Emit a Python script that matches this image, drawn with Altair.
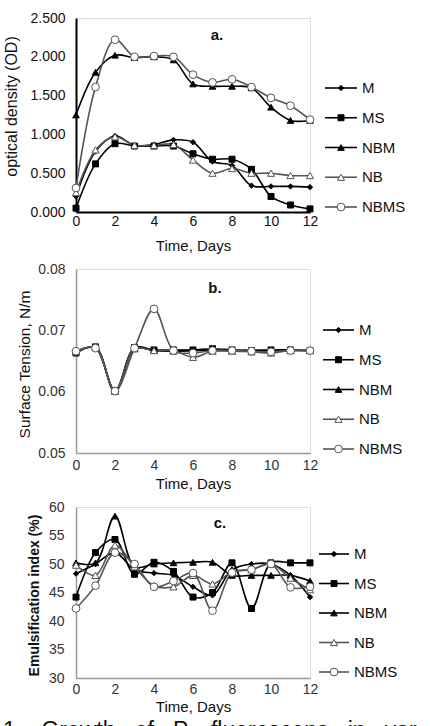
import altair as alt
import pandas as pd

# ---- data -----------------------------------------------------------------
days = list(range(13))
series = ["M", "MS", "NBM", "NB", "NBMS"]

# a. optical density (OD)
od_M = [0.20, 0.78, 0.98, 0.86, 0.87, 0.93, 0.90, 0.65, 0.60, 0.34, 0.33, 0.33, 0.32]
od_MS = [0.05, 0.62, 0.88, 0.85, 0.85, 0.85, 0.75, 0.68, 0.68, 0.55, 0.20, 0.09, 0.04]
od_NBM = [1.25, 1.80, 2.02, 1.99, 2.00, 1.96, 1.65, 1.62, 1.62, 1.60, 1.35, 1.18, 1.18]
od_NB = [0.25, 0.80, 0.97, 0.86, 0.86, 0.87, 0.67, 0.50, 0.56, 0.50, 0.50, 0.47, 0.47]
od_NBMS = [0.31, 1.61, 2.22, 2.00, 2.01, 2.00, 1.77, 1.67, 1.71, 1.61, 1.47, 1.37, 1.19]

# b. surface tension, N/m
st_M = [0.0665, 0.0672, 0.0600, 0.0670, 0.0667, 0.0667, 0.0667, 0.0668, 0.0667, 0.0668, 0.0667, 0.0668, 0.0667]
st_MS = [0.0663, 0.0673, 0.0601, 0.0672, 0.0668, 0.0668, 0.0668, 0.0670, 0.0668, 0.0667, 0.0668, 0.0668, 0.0667]
st_NBM = [0.0665, 0.0672, 0.0600, 0.0670, 0.0667, 0.0666, 0.0667, 0.0667, 0.0667, 0.0666, 0.0667, 0.0667, 0.0667]
st_NB = [0.0665, 0.0672, 0.0601, 0.0670, 0.0667, 0.0667, 0.0656, 0.0666, 0.0666, 0.0665, 0.0663, 0.0667, 0.0667]
st_NBMS = [0.0666, 0.0671, 0.0601, 0.0671, 0.0735, 0.0667, 0.0663, 0.0667, 0.0667, 0.0666, 0.0665, 0.0667, 0.0667]

# c. emulsification index (%)
ei_M = [48.3, 50.0, 52.0, 49.0, 48.4, 48.0, 46.0, 44.5, 49.0, 50.0, 50.0, 48.0, 44.2]
ei_MS = [44.2, 52.0, 54.3, 48.2, 50.3, 48.7, 44.2, 45.0, 50.2, 42.2, 50.2, 50.2, 50.2]
ei_NBM = [50.2, 50.2, 58.4, 49.5, 50.0, 50.2, 50.3, 50.3, 48.0, 48.0, 48.0, 48.0, 47.0]
ei_NB = [49.8, 48.0, 53.3, 49.5, 46.2, 46.0, 48.0, 46.5, 48.6, 49.0, 50.0, 47.5, 45.5]
ei_NBMS = [42.2, 46.2, 52.0, 50.0, 46.0, 47.0, 48.4, 41.8, 48.5, 49.0, 50.0, 45.9, 46.0]

x_ticks = [0, 2, 4, 6, 8, 10, 12]
SP = "\u00a0\u00a0\u00a0"
caption = SP.join(["1.", "Growth", "of", "P.", "fluorescens", "in", "various", "media"])

FONT = "Liberation Sans"


def long_frame(columns):
    rows = []
    for name, vals in zip(series, columns):
        for d, v in zip(days, vals):
            rows.append({"day": d, "series": name, "value": v})
    return pd.DataFrame(rows)


# legend rows: one per series, in drawing order
legend_df = pd.DataFrame({"series": series, "row": list(range(len(series)))})

# shared marker / line styling per series
shape_sc = alt.Scale(domain=series, range=["diamond", "square", "triangle-up", "triangle-up", "circle"])
fill_sc = alt.Scale(domain=series, range=["#000000", "#000000", "#000000", "#ffffff", "#ffffff"])
stroke_sc = alt.Scale(domain=series, range=["#000000", "#000000", "#000000", "#555555", "#555555"])
size_sc = alt.Scale(domain=series, range=[28, 60, 55, 50, 48])
width_sc = alt.Scale(domain=series, range=[1.6, 1.6, 1.6, 1.0, 1.0])

W = 234


def panel(df, height, ydomain, yticks, yfmt, ytitle, ytitle_pos, ytitle_weight,
          axis_color, axis_width, label_color, lab_pad_x, xtitle_y, y_lab_pad,
          letter, letter_pos, leg_top, leg_bottom, leg_x, extra=None, interp="catmull-rom"):
    xenc = alt.X(
        "day:Q",
        scale=alt.Scale(domain=[0, 12], nice=False),
        axis=alt.Axis(values=x_ticks, title="Time, Days", grid=False, ticks=False,
                      domainColor=axis_color, domainWidth=axis_width,
                      labelFont=FONT, labelFontSize=14, labelColor=label_color,
                      labelPadding=lab_pad_x, labelFlush=False,
                      titleFont=FONT, titleFontSize=15, titleFontWeight="normal",
                      titleColor="#111111", titleBaseline="middle", titleY=xtitle_y),
    )
    yenc = alt.Y(
        "value:Q",
        scale=alt.Scale(domain=ydomain, nice=False, zero=False),
        axis=alt.Axis(values=yticks, format=yfmt, title=ytitle, grid=False, ticks=False,
                      domainColor=axis_color, domainWidth=axis_width,
                      labelFont=FONT, labelFontSize=14, labelColor=label_color,
                      labelPadding=y_lab_pad, labelFlush=False,
                      titleFont=FONT, titleFontSize=ytitle_pos[2],
                      titleFontWeight=ytitle_weight, titleColor="#111111",
                      titleBaseline="middle", titleAlign="center", titleAngle=270,
                      titleX=ytitle_pos[0], titleY=ytitle_pos[1]),
    )
    base = alt.Chart(df)
    lines = base.mark_line(interpolate=interp).encode(
        x=xenc, y=yenc,
        detail="series:N",
        color=alt.Color("series:N", scale=stroke_sc, legend=None),
        strokeWidth=alt.StrokeWidth("series:N", scale=width_sc, legend=None),
    )
    points = base.mark_point(filled=True, opacity=1, strokeWidth=1).encode(
        x=xenc, y=yenc,
        shape=alt.Shape("series:N", scale=shape_sc, legend=None),
        fill=alt.Fill("series:N", scale=fill_sc, legend=None),
        stroke=alt.Stroke("series:N", scale=stroke_sc, legend=None),
        size=alt.Size("series:N", scale=size_sc, legend=None),
    )
    tag = alt.Chart(legend_df.head(1)).mark_text(
        text=letter, font=FONT, fontSize=15, fontWeight="bold", align="center",
        baseline="middle", color="#111111",
    ).encode(x=alt.value(letter_pos[0]), y=alt.value(letter_pos[1]))
    layers = [lines, points, tag]
    if extra is not None:
        layers.append(extra)
    data_layer = alt.layer(*layers)

    # legend: short line + marker + name for each series
    ly = alt.Y("row:Q", axis=None,
               scale=alt.Scale(domain=[0, len(series) - 1], range=[leg_top, leg_bottom],
                               nice=False, zero=False))
    lbase = alt.Chart(legend_df)
    l_rule = lbase.mark_rule().encode(
        y=ly, x=alt.value(leg_x[0]), x2=alt.value(leg_x[1]),
        color=alt.Color("series:N", scale=stroke_sc, legend=None),
        strokeWidth=alt.StrokeWidth("series:N", scale=width_sc, legend=None),
    )
    l_pt = lbase.mark_point(filled=True, opacity=1, strokeWidth=1).encode(
        y=ly, x=alt.value((leg_x[0] + leg_x[1]) / 2),
        shape=alt.Shape("series:N", scale=shape_sc, legend=None),
        fill=alt.Fill("series:N", scale=fill_sc, legend=None),
        stroke=alt.Stroke("series:N", scale=stroke_sc, legend=None),
        size=alt.Size("series:N", scale=size_sc, legend=None),
    )
    l_txt = lbase.mark_text(font=FONT, fontSize=15, align="left", baseline="middle",
                            color="#111111").encode(
        y=ly, x=alt.value(leg_x[2]), text="series:N",
    )
    legend_layer = alt.layer(l_rule, l_pt, l_txt)
    return alt.layer(data_layer, legend_layer).resolve_scale(y="independent").properties(
        width=W, height=height
    )


# figure caption under the last panel, running off the bottom and right edges
cap_text = alt.Chart(legend_df.head(1)).mark_text(
    text=caption, font=FONT, fontSize=23, align="left", baseline="alphabetic",
    color="#111111", limit=424, ellipsis=" ",
).encode(x=alt.value(-73), y=alt.value(231))

pa = panel(long_frame([od_M, od_MS, od_NBM, od_NB, od_NBMS]), 194, [0, 2.5],
           [0, 0.5, 1.0, 1.5, 2.0, 2.5], ".3f", "optical density (OD)", (-65, 88, 16), "normal",
           "#000000", 2, "#111111", 2, 33, 11, "a.", (141, 17), 70, 189, (249, 281, 286))
pb = panel(long_frame([st_M, st_MS, st_NBM, st_NB, st_NBMS]), 184, [0.05, 0.08],
           [0.05, 0.06, 0.07, 0.08], ".2f", "Surface Tension, N/m", (-52, 95, 15.5), "normal",
           "#999999", 1.5, "#333333", 5, 30, 11, "b.", (139, 19), 61, 180, (247, 278, 283))
pc = panel(long_frame([ei_M, ei_MS, ei_NBM, ei_NB, ei_NBMS]), 171, [30, 60],
           [30, 35, 40, 45, 50, 55, 60], "d", "Emulsification index (%)", (-42, 88, 14), "bold",
           "#999999", 1.5, "#333333", 4, 28, 12, "c.", (144, 16), 47, 165, (243, 273, 278),
           extra=cap_text)

chart = alt.vconcat(pa, pb, pc, spacing=7).properties(
    padding={"left": 2, "top": 10, "right": 0, "bottom": 0}
).configure_view(strokeWidth=0).configure(background="white")

chart.save("out.html", embed_options={"renderer": "svg", "actions": False})
